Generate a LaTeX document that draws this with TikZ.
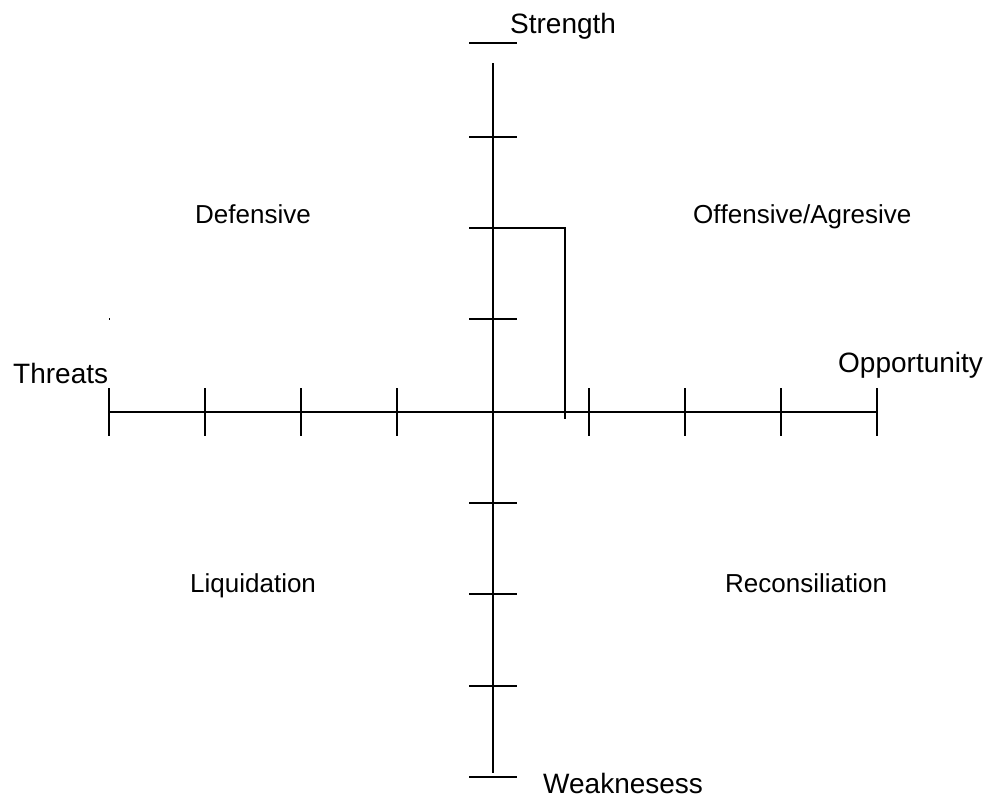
\documentclass[tikz,border=0pt]{standalone}
\usepackage{fontspec}
\setmainfont[Ligatures=CommonOff]{Liberation Sans}
\usetikzlibrary{arrows,shapes}

\begin{document}
\begin{tikzpicture}[x=1pt,y=-1pt]
	\newcommand\tk{24}
	\newcommand\axlw{1.6pt}
	\tikzset{
		axis/.style = {line width = \axlw},
		tick/.style = {line width = \axlw},
		axlabel/.style = {anchor=base west, inner sep=0pt, font=\fontsize{28}{34}\selectfont},
		quadlabel/.style = {anchor=base west, inner sep=0pt, font=\fontsize{26}{31}\selectfont},
	}
	\useasboundingbox (0,0) rectangle (992,798);
	% axis end points
	\coordinate (top) at (493,63);
	\coordinate (bot) at (493,773);
	\coordinate (lft) at (109,412);
	\coordinate (rgt) at (877,412);
	\coordinate (o) at (493,412);
	% axes
	\draw [axis] (top) -- (bot);
	\draw [axis, line width=1.3pt] (lft) -- (rgt);
	% ticks on the strength/weakness axis
	\foreach \y in {43,137,228,319,412,503,594,686,777}
		\draw [tick] (493-\tk,\y) -- (493+\tk,\y);
	% ticks on the threats/opportunity axis
	\foreach \x in {109,205,301,397,589,685,781,877}
		\draw [tick] (\x,412-\tk) -- (\x,412+\tk);
	% position marker
	\coordinate (p1) at (493,228);
	\coordinate (p2) at (565,228);
	\coordinate (p3) at (565,419);
	\draw [tick] (p1) -- (p2) -- (p3);
	\fill (108.5,318) rectangle (109.5,320);
	% axis labels
	\node [axlabel] (strength) at (510,33) {Strength};
	\node [axlabel] (weak) at (543,793) {Weaknesess};
	\node [axlabel] (threats) at (13,383) {Threats};
	\node [axlabel] (opp) at (838,372) {Opportunity};
	% quadrants
	\node [quadlabel] (def) at (195,223) {Defensive};
	\node [quadlabel] (off) at (693,223) {Of\kern0pt f\kern0pt ensive/Agresive};
	\node [quadlabel] (liq) at (190,592) {Liquidation};
	\node [quadlabel] (rec) at (725,592) {Reconsiliation};
\end{tikzpicture}
\end{document}
